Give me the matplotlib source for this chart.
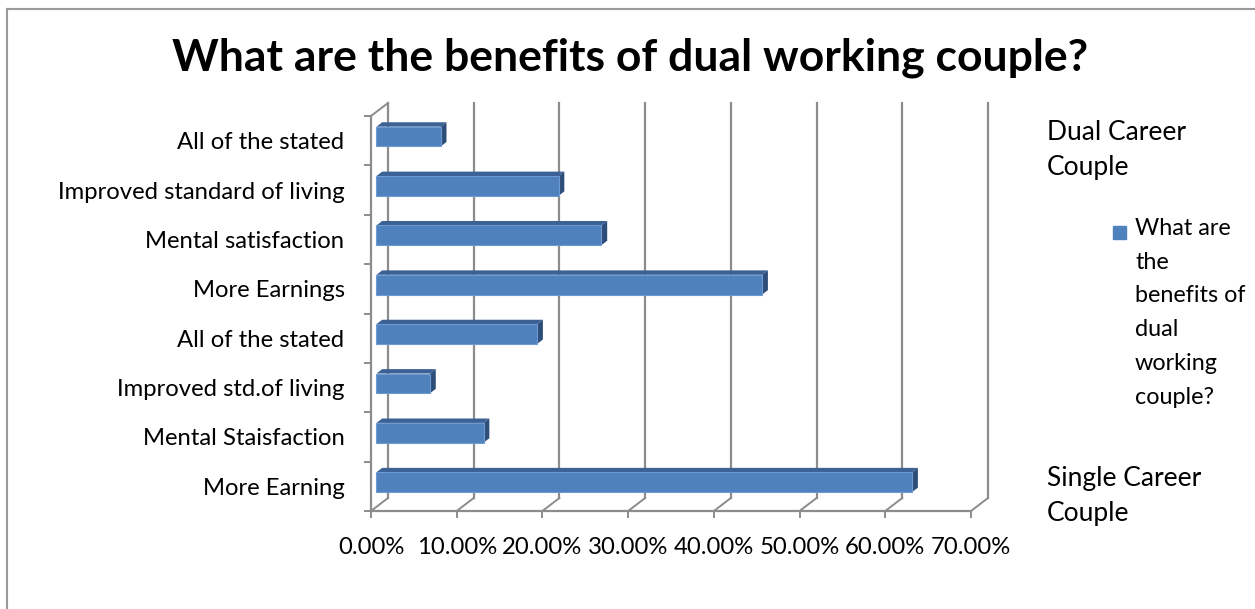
import numpy as np
import matplotlib
matplotlib.use("Agg")
import matplotlib.pyplot as plt
from matplotlib.patches import Polygon, Rectangle
from matplotlib.lines import Line2D

plt.rcParams['font.family'] = ['Lato', 'DejaVu Sans']

# survey answers, bottom to top
categories = ['More Earning', 'Mental Staisfaction', 'Improved std.of living',
              'All of the stated', 'More Earnings', 'Mental satisfaction',
              'Improved standard of living', 'All of the stated']
values = [62.5, 12.5, 6.25, 18.75, 45.0, 26.25, 21.25, 7.5]
xticks = [0, 10, 20, 30, 40, 50, 60, 70]
xticklabels = ['%.2f%%' % t for t in xticks]

title = 'What are the benefits of dual working couple?'
series_name = 'What are\nthe\nbenefits of\ndual\nworking\ncouple?'

W, H = 1255, 609
fig = plt.figure(figsize=(W / 100, H / 100), dpi=100)

def fx(x):
    return x / W

def fy(y):
    return 1 - y / H

ax = fig.add_axes([fx(371), fy(511), 600 / W, 395 / H])
ax.set_xlim(0, 70)
ax.set_ylim(-0.5, 7.5)
ax.patch.set_alpha(0)

# depth of the 3-D box in data units
DX, DY = 1.98, 0.263
f, b = 0.32, 0.66
h = 0.4
grid_c = '#8c8c8c'

# back wall gridlines and floor diagonals
for t in xticks:
    ax.add_line(Line2D([t + DX, t + DX], [-0.5 + DY, 7.5 + DY], color=grid_c,
                       lw=1.6, clip_on=False, zorder=1))
    ax.add_line(Line2D([t, t + DX], [-0.5, -0.5 + DY], color=grid_c,
                       lw=1.4, clip_on=False, zorder=1))
ax.add_line(Line2D([0, DX], [7.5, 7.5 + DY], color=grid_c, lw=1.4,
                   clip_on=False, zorder=1))

ypos = np.arange(len(categories))
ax.barh(ypos + f * DY, values, left=f * DX, height=h, color='#4F81BD',
        edgecolor='#6E9AD0', linewidth=0.8, zorder=3)
for y, v in zip(ypos, values):
    top = y + h / 2
    bot = y - h / 2
    ax.add_patch(Polygon([(f * DX, top + f * DY), (v + f * DX, top + f * DY),
                          (v + b * DX, top + b * DY), (b * DX, top + b * DY)],
                         closed=True, facecolor='#3B6195', edgecolor='none',
                         zorder=2, clip_on=False))
    ax.add_patch(Polygon([(v + f * DX, bot + f * DY), (v + f * DX, top + f * DY),
                          (v + b * DX, top + b * DY), (v + b * DX, bot + b * DY)],
                         closed=True, facecolor='#2E4E7A', edgecolor='none',
                         zorder=2, clip_on=False))

for side in ['top', 'right']:
    ax.spines[side].set_visible(False)
for side in ['left', 'bottom']:
    ax.spines[side].set_color(grid_c)
    ax.spines[side].set_linewidth(1.6)

ax.set_xticks(xticks)
ax.set_xticklabels(xticklabels, fontsize=17.2)
ax.tick_params(axis='x', length=5, width=1.4, color=grid_c, pad=14)
ax.set_yticks(np.arange(-0.5, 8, 1))
ax.set_yticklabels([])
ax.set_yticks(ypos, minor=True)
ax.set_yticklabels(categories, minor=True, fontsize=17.2)
ax.tick_params(axis='y', which='major', length=5, width=1.4, color=grid_c)
ax.tick_params(axis='y', which='minor', length=0, pad=19)

fig.text(0.502, fy(58), title, ha='center', va='center', fontsize=32,
         fontweight='bold')

fig.text(fx(1047), fy(120), 'Dual Career\nCouple', ha='left', va='top',
         fontsize=19, linespacing=1.5)
fig.text(fx(1047), fy(466), 'Single Career\nCouple', ha='left', va='top',
         fontsize=19, linespacing=1.5)
fig.add_artist(Rectangle((fx(1113), fy(239)), 13 / W, 13 / H,
                         transform=fig.transFigure, color='#4F81BD'))
fig.text(fx(1135), fy(218), series_name, ha='left', va='top',
         fontsize=16.8, linespacing=1.75)

# chart area border
fig.add_artist(Line2D([fx(7), fx(7)], [fy(9), 0], color='#9a9a9a', lw=1.5,
                      transform=fig.transFigure))
fig.add_artist(Line2D([fx(7), 1], [fy(9), fy(9)], color='#9a9a9a', lw=1.5,
                      transform=fig.transFigure))

fig.savefig('out.png', dpi=100)
